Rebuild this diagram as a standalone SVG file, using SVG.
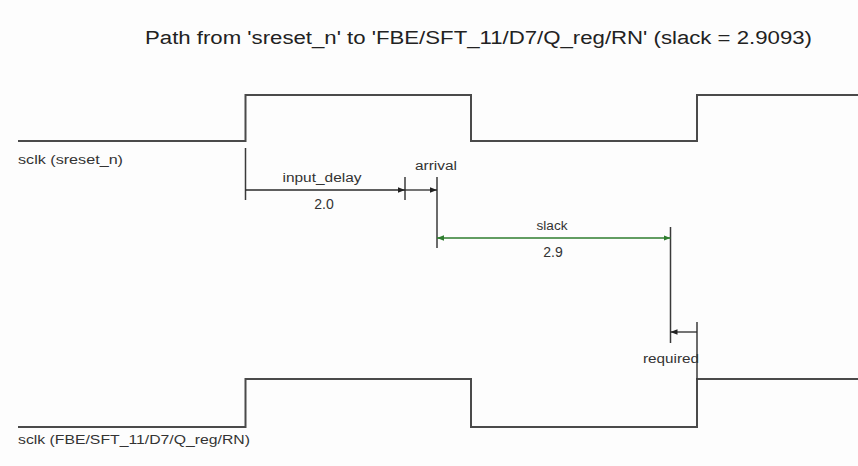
<svg xmlns="http://www.w3.org/2000/svg" width="858" height="466" viewBox="0 0 858 466">
<defs>
<style>
.wave{fill:none;stroke:#4a4a4a;stroke-width:2}
.tick{fill:none;stroke:#3a3a3a;stroke-width:1.5}
.dim{fill:none;stroke:#2a2a2a;stroke-width:1.3}
.gdim{fill:none;stroke:#2e7d2e;stroke-width:1.3}
.lbl{font-family:"Liberation Sans",Arial,sans-serif;font-size:12.5px;fill:#333}
.num{font-family:"Liberation Sans",Arial,sans-serif;font-size:14px;fill:#333}
.ttl{font-family:"Liberation Sans",Arial,sans-serif;font-size:18px;fill:#222}
</style>
<marker id="ah" viewBox="0 0 10 10" refX="10" refY="5" markerWidth="7" markerHeight="7" orient="auto-start-reverse" markerUnits="userSpaceOnUse"><path d="M0,1 L10,5 L0,9 Z" fill="#222"/></marker>
<marker id="gah" viewBox="0 0 10 10" refX="10" refY="5" markerWidth="7" markerHeight="7" orient="auto-start-reverse" markerUnits="userSpaceOnUse"><path d="M0,1 L10,5 L0,9 Z" fill="#2e7d2e"/></marker>
</defs>
<rect width="858" height="466" fill="#fdfdfd"/>
<text class="ttl" x="145" y="44" textLength="667" lengthAdjust="spacingAndGlyphs">Path from 'sreset_n' to 'FBE/SFT_11/D7/Q_reg/RN' (slack = 2.9093)</text>
<g id="clk-launch">
<path class="wave" d="M18,141 H245.5 V95 H471 V141 H697 V95 H858"/>
<text class="lbl" x="18" y="164" textLength="105" lengthAdjust="spacingAndGlyphs">sclk (sreset_n)</text>
</g>
<g id="clk-capture">
<path class="wave" d="M18,427 H245.5 V379 H471 V427 H697 V379 H858"/>
<text class="lbl" x="18" y="444" textLength="232" lengthAdjust="spacingAndGlyphs">sclk (FBE/SFT_11/D7/Q_reg/RN)</text>
</g>
<g id="connectors">
<path class="tick" d="M245.5,148 V200"/>
<path class="tick" d="M405,177 V200"/>
<path class="tick" d="M437,177 V248"/>
<path class="tick" d="M670.5,227 V343"/>
<path class="tick" d="M697,322 V380"/>
<path class="dim" d="M245.5,190 H405" marker-end="url(#ah)"/>
<path class="dim" d="M405,190 H437" marker-end="url(#ah)"/>
<path class="gdim" d="M437,238 H670.5" marker-start="url(#gah)" marker-end="url(#gah)"/>
<path class="dim" d="M697,332 H670.5" marker-end="url(#ah)"/>
</g>
<g id="labels">
<text class="lbl" x="322" y="182" text-anchor="middle" textLength="79" lengthAdjust="spacingAndGlyphs">input_delay</text>
<text class="num" x="324" y="209" text-anchor="middle">2.0</text>
<text class="lbl" x="436" y="170" text-anchor="middle" textLength="42" lengthAdjust="spacingAndGlyphs">arrival</text>
<text class="lbl" x="552" y="230" text-anchor="middle" textLength="31" lengthAdjust="spacingAndGlyphs">slack</text>
<text class="num" x="553" y="257" text-anchor="middle">2.9</text>
<text class="lbl" x="643" y="363" textLength="56" lengthAdjust="spacingAndGlyphs">required</text>
</g>
</svg>
